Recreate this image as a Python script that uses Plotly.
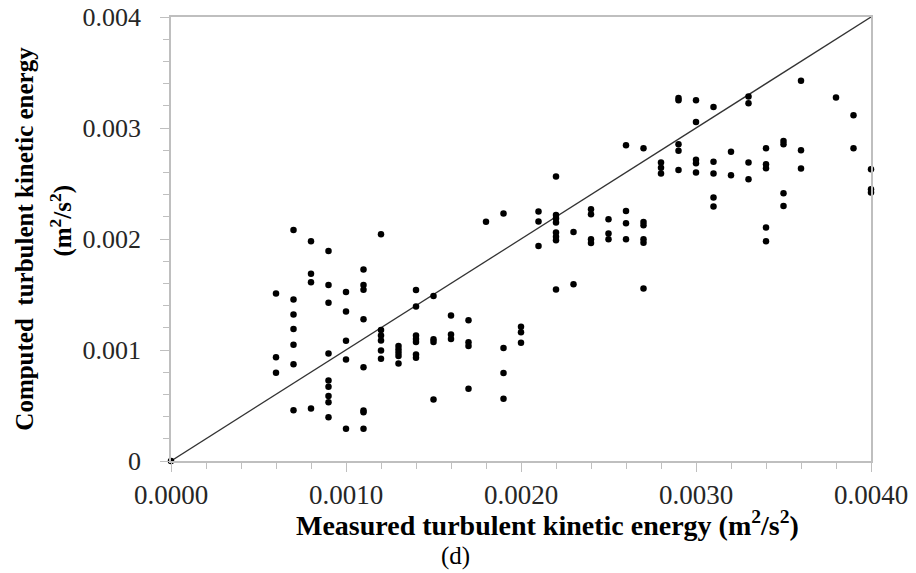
import plotly.graph_objects as go

# Measured (x) and computed (y) turbulent kinetic energy, m^2/s^2
measured = (
    [0.0]
    + [0.0006] * 3
    + [0.0007] * 7
    + [0.0008] * 4
    + [0.0009] * 9
    + [0.0010] * 5
    + [0.0011] * 8
    + [0.0012] * 6
    + [0.0013] * 5
    + [0.0014] * 7
    + [0.0015] * 4
    + [0.0016] * 3
    + [0.0017] * 4
    + [0.0018] * 1
    + [0.0019] * 4
    + [0.0020] * 3
    + [0.0021] * 3
    + [0.0022] * 8
    + [0.0023] * 2
    + [0.0024] * 4
    + [0.0025] * 3
    + [0.0026] * 4
    + [0.0027] * 6
    + [0.0028] * 3
    + [0.0029] * 5
    + [0.0030] * 5
    + [0.0031] * 5
    + [0.0032] * 2
    + [0.0033] * 4
    + [0.0034] * 5
    + [0.0035] * 4
    + [0.0036] * 3
    + [0.0038] * 1
    + [0.0039] * 2
    + [0.0040] * 3
)

computed_e3 = [
    0.0,
    1.51, 0.935, 0.795,
    2.08, 1.455, 1.32, 1.19, 1.048, 0.872, 0.458,
    1.98, 1.688, 1.61, 0.473,
    1.892, 1.585, 1.426, 0.969, 0.726, 0.669, 0.585, 0.530, 0.395,
    1.522, 1.346, 1.084, 0.915, 0.290,
    1.726, 1.585, 1.543, 1.276, 0.845, 0.455, 0.44, 0.290,
    2.042, 1.18, 1.13, 1.085, 0.996, 0.922,
    1.035, 1.005, 0.975, 0.945, 0.879,
    1.54, 1.393, 1.13, 1.10, 1.072, 0.96, 0.93,
    1.486, 1.096, 1.072, 0.554,
    1.31, 1.14, 1.10,
    1.267, 1.07, 1.037, 0.65,
    2.156,
    2.229, 1.018, 0.792, 0.561,
    1.21, 1.16, 1.065,
    2.247, 2.157, 1.937,
    2.562, 2.217, 2.184, 2.148, 2.058, 2.021, 1.988, 1.546,
    2.063, 1.592,
    2.268, 2.223, 1.997, 1.963,
    2.178, 2.05, 1.997,
    2.845, 2.253, 2.142, 1.997,
    2.818, 2.154, 2.124, 1.997, 1.967, 1.555,
    2.689, 2.643, 2.589,
    3.27, 3.25, 2.854, 2.794, 2.622,
    3.25, 3.055, 2.713, 2.683, 2.598,
    3.19, 2.695, 2.589, 2.373, 2.292,
    2.785, 2.574,
    3.284, 3.224, 2.689, 2.538,
    2.818, 2.674, 2.638, 2.103, 1.979,
    2.884, 2.854, 2.412, 2.298,
    3.425, 2.80, 2.635,
    3.275,
    3.115, 2.818,
    2.628, 2.448, 2.418,
]
computed = [v / 1000.0 for v in computed_e3]

line_x = [0.0, 0.004]
line_y = [0.0, 0.004]

x_tickvals = [0.0, 0.001, 0.002, 0.003, 0.004]
x_ticktext = ["0.0000", "0.0010", "0.0020", "0.0030", "0.0040"]
y_tickvals = [0.0, 0.001, 0.002, 0.003, 0.004]
y_ticktext = ["0", "0.001", "0.002", "0.003", "0.004"]

x_title = "<b>Measured turbulent kinetic energy (m<sup>2</sup>/s<sup>2</sup>)</b>"
y_title_1 = "<b>Computed  turbulent kinetic energy</b>"
y_title_2 = "<b>(m<sup>2</sup>/s<sup>2</sup>)</b>"
panel_label = "(d)"

FONT = "Liberation Serif, Times New Roman, serif"
AXIS_GRAY = "#BFBFBF"

fig = go.Figure()
fig.add_trace(go.Scatter(
    x=line_x, y=line_y, mode="lines",
    line=dict(color="#333333", width=1.3),
    showlegend=False, hoverinfo="skip", cliponaxis=False,
))
fig.add_trace(go.Scatter(
    x=measured, y=computed, mode="markers",
    marker=dict(color="black", size=6.5, line=dict(width=0)),
    showlegend=False, cliponaxis=False,
))

axis_common = dict(
    showgrid=False, zeroline=False, automargin=False,
    showline=True, linecolor=AXIS_GRAY, linewidth=1.5, mirror=True,
    ticks="outside", ticklen=9, tickwidth=1.3, tickcolor=AXIS_GRAY,
    range=[0, 0.004], ticklabeloverflow="allow",
    minor=dict(dtick=0.0002, ticks="outside", ticklen=6, tickwidth=1.2, tickcolor=AXIS_GRAY),
)

fig.update_xaxes(**axis_common, tickvals=x_tickvals, ticktext=x_ticktext, ticklabelstandoff=0,
                 tickfont=dict(family=FONT, size=27, color="#262626"))
fig.update_yaxes(**axis_common, tickvals=y_tickvals, ticktext=y_ticktext, ticklabelstandoff=14,
                 tickfont=dict(family=FONT, size=26, color="#262626"))

# page body has an 8px margin; positions below are page pixels relative to plot area
def px_to_paper_x(px):
    return (px - 170.5) / 701.0

def px_to_paper_y(py):
    return (460.8 - py) / 443.5

annotations = [
    dict(text=x_title, x=px_to_paper_x(547.5), y=px_to_paper_y(523), size=28, angle=0),
    dict(text=y_title_1, x=px_to_paper_x(24), y=px_to_paper_y(239), size=25, angle=-90),
    dict(text=y_title_2, x=px_to_paper_x(61), y=px_to_paper_y(221), size=25, angle=-90),
    dict(text=panel_label, x=px_to_paper_x(455), y=px_to_paper_y(556), size=25, angle=0),
]
for a in annotations:
    fig.add_annotation(
        text=a["text"], x=a["x"], y=a["y"], xref="paper", yref="paper",
        xanchor="center", yanchor="middle", showarrow=False, textangle=a["angle"],
        font=dict(family=FONT, size=a["size"], color="black"),
    )

fig.update_layout(
    width=916, height=573,
    margin=dict(l=162.5, r=52.5, t=9.3, b=120.2, pad=0, autoexpand=False),
    paper_bgcolor="white", plot_bgcolor="white",
    showlegend=False,
)

fig.write_html("out.html")
